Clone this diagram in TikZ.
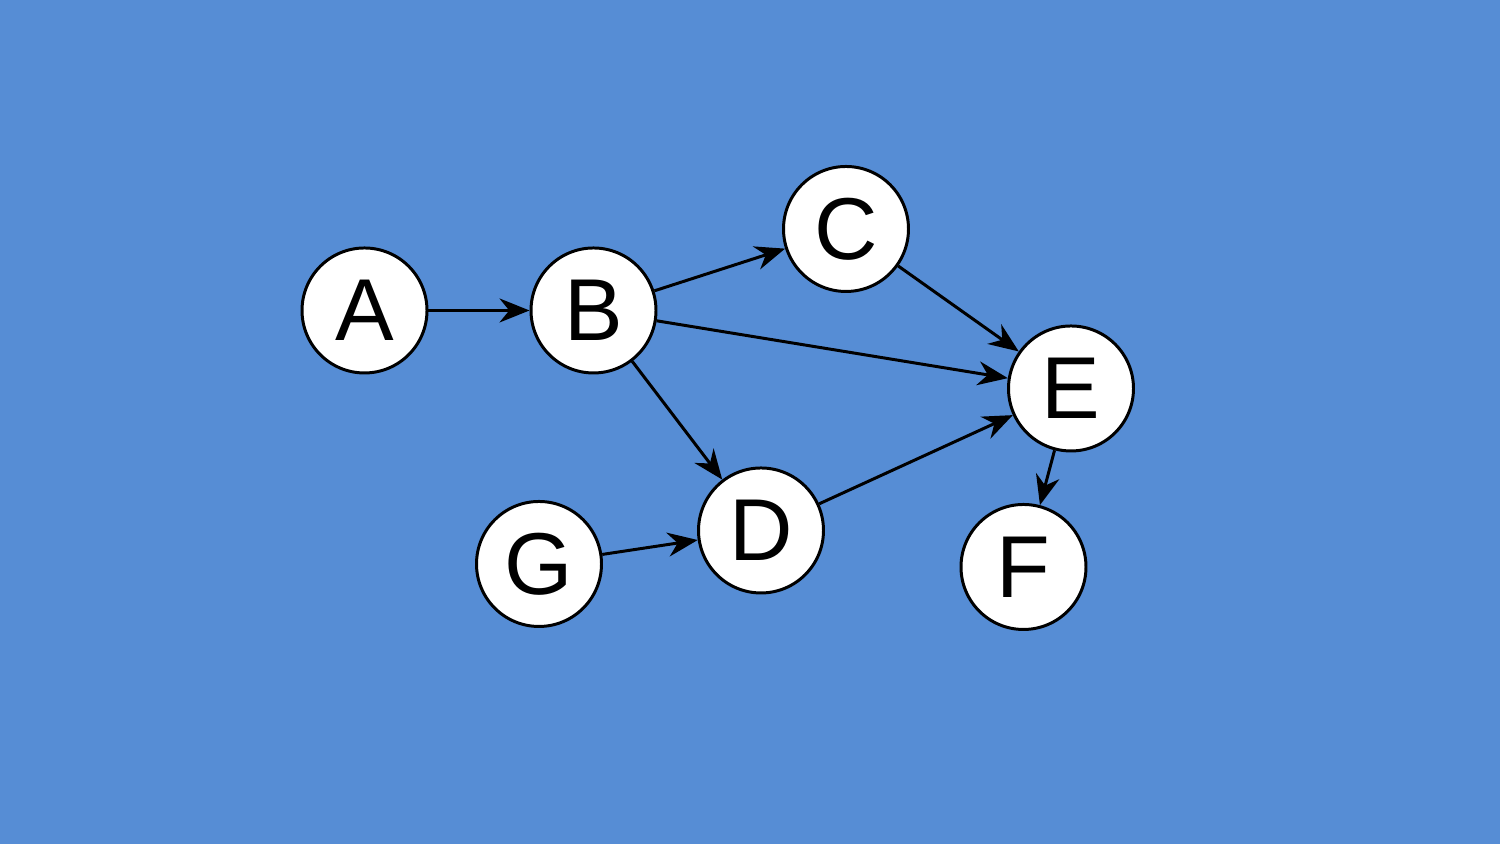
\documentclass[tikz,border=0pt]{standalone}
\usepackage{fontspec}
\setmainfont{Liberation Sans}
\usetikzlibrary{arrows.meta}
\definecolor{fondbleu}{HTML}{568DD5}

\begin{document}
\begin{tikzpicture}[-{Stealth[length=3mm,width=2.4mm]}, line width=0.85pt, every node/.style={draw, circle, fill=white, line width=0.85pt, minimum size=1.25cm, inner sep=0pt, font=\fontsize{25}{25}\selectfont}]
		\fill[fondbleu] (0,0) rectangle (15,8.44);
		\useasboundingbox (0,0) rectangle (15,8.44);
		\node (A) at (3.645,5.335) {A};
		\node (B) at (5.935,5.335) {B};
		\node (C) at (8.46,6.15) {C};
		\node (E) at (10.71,4.555) {E};
		\node (D) at (7.61,3.135) {D};
		\node (G) at (5.39,2.80) {G};
		\node (F) at (10.235,2.77) {F};
		
		\draw (A) -- (B);
		\draw (B) -- (C);
		\draw (B) -- (E);
		\draw (B) -- (D);
		\draw (C) -- (E);
		\draw (D) -- (E);
		\draw (G) -- (D);
		\draw (E) -- (F);
		
	\end{tikzpicture}
\end{document}
